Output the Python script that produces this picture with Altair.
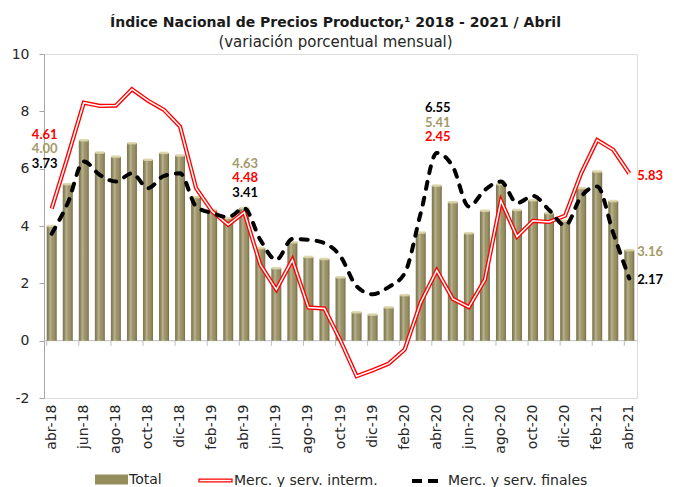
import altair as alt
import pandas as pd

months = ["abr-18", "may-18", "jun-18", "jul-18", "ago-18", "sep-18", "oct-18", "nov-18", "dic-18",
          "ene-19", "feb-19", "mar-19", "abr-19", "may-19", "jun-19", "jul-19", "ago-19", "sep-19",
          "oct-19", "nov-19", "dic-19", "ene-20", "feb-20", "mar-20", "abr-20", "may-20", "jun-20",
          "jul-20", "ago-20", "sep-20", "oct-20", "nov-20", "dic-20", "ene-21", "feb-21", "mar-21", "abr-21"]

total = [4.00, 5.46, 6.99, 6.56, 6.42, 6.89, 6.31, 6.55, 6.46, 5.01, 4.56, 4.28, 4.63, 3.23, 2.53,
         3.43, 2.92, 2.85, 2.21, 0.99, 0.91, 1.16, 1.59, 3.77, 5.41, 4.83, 3.75, 4.53, 5.46, 4.56,
         4.90, 4.45, 4.18, 5.32, 5.90, 4.87, 3.16]

interm = [4.61, 6.42, 8.30, 8.19, 8.20, 8.77, 8.37, 8.05, 7.47, 5.32, 4.51, 4.04, 4.48, 2.65, 1.78,
          2.82, 1.16, 1.12, 0.00, -1.24, -1.03, -0.80, -0.31, 1.33, 2.45, 1.46, 1.17, 2.13, 4.88,
          3.63, 4.18, 4.14, 4.36, 5.84, 7.00, 6.66, 5.83]

finales = [3.73, 4.80, 6.25, 5.78, 5.55, 5.84, 5.32, 5.75, 5.84, 4.68, 4.45, 4.31, 4.62, 3.52, 2.82,
           3.55, 3.52, 3.40, 2.94, 1.90, 1.62, 1.87, 2.35, 4.45, 6.55, 6.07, 4.68, 5.26, 5.55, 4.80,
           5.05, 4.56, 4.02, 5.03, 5.38, 3.75, 2.17]

# stacked annotation groups
group_months = ["abr-18", "abr-19", "abr-20"]
group_top = [7.18, 6.17, 8.11]
group_texts = [["4.61", "4.00", "3.73"], ["4.63", "4.48", "3.41"], ["6.55", "5.41", "2.45"]]
group_series = [["interm", "total", "finales"], ["total", "interm", "finales"], ["finales", "total", "interm"]]

end_texts = ["5.83", "3.16", "2.17"]
end_series = ["interm", "total", "finales"]

OLIVE = "#968d5c"
OLIVE_TXT = "#a39a68"
RED = "#ff0000"
BLACK = "#000000"
series_color = {"interm": RED, "total": OLIVE_TXT, "finales": BLACK}
AX_FONT = "DejaVu Sans"
LBL_FONT = "Lato"

df = pd.DataFrame({"mes": months, "total": total, "interm": interm, "finales": finales})
tick_df = pd.DataFrame({"mes": months[::2]})

rows = []
for g, (m, top, texts, sers) in enumerate(zip(group_months, group_top, group_texts, group_series)):
    for r, (t, s) in enumerate(zip(texts, sers)):
        rows.append({"mes": m, "y": top, "row": r, "grp": g, "txt": t, "col": series_color[s]})
ann_df = pd.DataFrame(rows)

end_df = pd.DataFrame({"mes": [months[-1]] * 3,
                       "y": [float(t) for t in end_texts],
                       "txt": end_texts,
                       "col": [series_color[s] for s in end_series]})

xscale = alt.Scale(domain=months, paddingInner=0.38, paddingOuter=0.17)
yscale = alt.Scale(domain=[-2, 10], nice=False)

x_axis = alt.Axis(title=None, values=months[::2], labelAngle=-90, domain=False, ticks=False,
                  labelPadding=6, labelFont=AX_FONT, labelFontSize=14, labelColor="#262626",
                  labelBaseline="middle", labelAlign="right")
y_axis = alt.Axis(title=None, values=[-2, 0, 2, 4, 6, 8, 10], grid=False, domainColor="#a6a6a6",
                  tickColor="#a6a6a6", tickSize=5, labelPadding=10, labelFont=AX_FONT,
                  labelFontSize=14, labelColor="#262626", labelExpr="'' + datum.value")


def X():
    return alt.X("mes:N", sort=months, scale=xscale, axis=x_axis)


def Y(field):
    return alt.Y(field, scale=yscale, axis=y_axis)


base = alt.Chart(df)

bars = base.mark_bar().transform_calculate(serie="'Total'").encode(
    x=X(), y=Y("total:Q"), y2=alt.datum(0),
    color=alt.Color("serie:N", scale=alt.Scale(domain=["Total"], range=[OLIVE]),
                    legend=alt.Legend(title=None, orient="none", legendX=51, legendY=409,
                                      symbolType="M-1,-0.3H1V0.3H-1Z", symbolSize=1089,
                                      symbolStrokeWidth=0, labelFont=AX_FONT, labelFontSize=14,
                                      labelColor="#262626", labelOffset=1)))

shade = base.mark_bar(fill=alt.Gradient(
    gradient="linear", x1=0, x2=1, y1=0, y2=0,
    stops=[alt.GradientStop(color="rgba(0,0,0,0.15)", offset=0),
           alt.GradientStop(color="rgba(255,255,255,0.32)", offset=0.35),
           alt.GradientStop(color="rgba(255,255,255,0.05)", offset=0.6),
           alt.GradientStop(color="rgba(0,0,0,0.25)", offset=1)])).encode(
    x=X(), y=Y("total:Q"), y2=alt.datum(0))

caps = base.mark_tick(color="#dcd5a8", thickness=2.5, size=9, opacity=0.9).encode(
    x=X(), y=Y("total:Q"))

zero = alt.Chart(pd.DataFrame({"z": [0]})).mark_rule(color="#bfbfbf", strokeWidth=1).encode(
    y=Y("z:Q"))

zticks = alt.Chart(tick_df).mark_rule(color="#bfbfbf", strokeWidth=1).encode(
    x=alt.X("mes:N", sort=months, scale=xscale, axis=x_axis, bandPosition=0),
    y=alt.datum(0), y2=alt.datum(-0.18))

red_outer = base.mark_line(strokeWidth=4.2).transform_calculate(serie="'Merc. y serv. interm.'").encode(
    x=X(), y=Y("interm:Q"),
    color=alt.Color("serie:N", scale=alt.Scale(domain=["Merc. y serv. interm."], range=[RED]),
                    legend=alt.Legend(title=None, orient="none", legendX=154, legendY=409,
                                      symbolType="M-1,-0.08H1V0.08H-1Z", symbolSize=1089,
                                      symbolFillColor="white", symbolStrokeColor=RED,
                                      symbolStrokeWidth=1.3, labelFont=AX_FONT, labelFontSize=14,
                                      labelColor="#262626", labelOffset=1)))
red_inner = base.mark_line(strokeWidth=1.5, color="white").encode(
    x=X(), y=Y("interm:Q"))

black = base.mark_line(strokeWidth=4, strokeDash=[7, 9], strokeCap="round",
                       interpolate="monotone").transform_calculate(serie="'Merc. y serv. finales'").encode(
    x=X(), y=Y("finales:Q"),
    color=alt.Color("serie:N", scale=alt.Scale(domain=["Merc. y serv. finales"], range=[BLACK]),
                    legend=alt.Legend(title=None, orient="none", legendX=366, legendY=411,
                                      symbolType="stroke", symbolSize=784, symbolStrokeWidth=4,
                                      symbolDash=[10, 6], labelFont=AX_FONT, labelFontSize=14,
                                      labelColor="#262626", labelOffset=6)))

group_dx = [-7, 1, 1]
ann_layers = []
for g in range(3):
    for r in range(3):
        ann_layers.append(
            alt.Chart(ann_df).transform_filter((alt.datum.row == r) & (alt.datum.grp == g)).mark_text(
                font=LBL_FONT, fontSize=13, fontWeight="bold", dx=group_dx[g], dy=14.5 * r,
                baseline="middle").encode(
                x=X(), y=Y("y:Q"), text="txt:N",
                color=alt.Color("col:N", scale=None)))

end_lbl = alt.Chart(end_df).mark_text(font=LBL_FONT, fontSize=13, fontWeight="bold", align="left",
                                      dx=8, dy=2, baseline="middle").encode(
    x=X(), y=Y("y:Q"), text="txt:N", color=alt.Color("col:N", scale=None))

chart = alt.layer(zero, bars, shade, caps, zticks, red_outer, red_inner, black, *ann_layers, end_lbl).resolve_scale(
    color="independent").properties(
    width=593, height=344,
    autosize=alt.AutoSizeParams(type="none"),
    padding={"left": 36, "top": 46, "right": 29, "bottom": 89},
    title=alt.TitleParams(text="Índice Nacional de Precios Productor,¹ 2018 - 2021 / Abril",
                          subtitle="(variación porcentual mensual)", anchor="middle", dx=-5,
                          font=AX_FONT, fontSize=14, fontWeight="bold", color="#1a1a1a",
                          subtitleFont=AX_FONT, subtitleFontSize=15, subtitleColor="#262626",
                          subtitlePadding=5, offset=-3),
).configure_view(stroke=None).configure(background="white")

chart.save("out.html", embed_options={"renderer": "svg", "actions": False})
